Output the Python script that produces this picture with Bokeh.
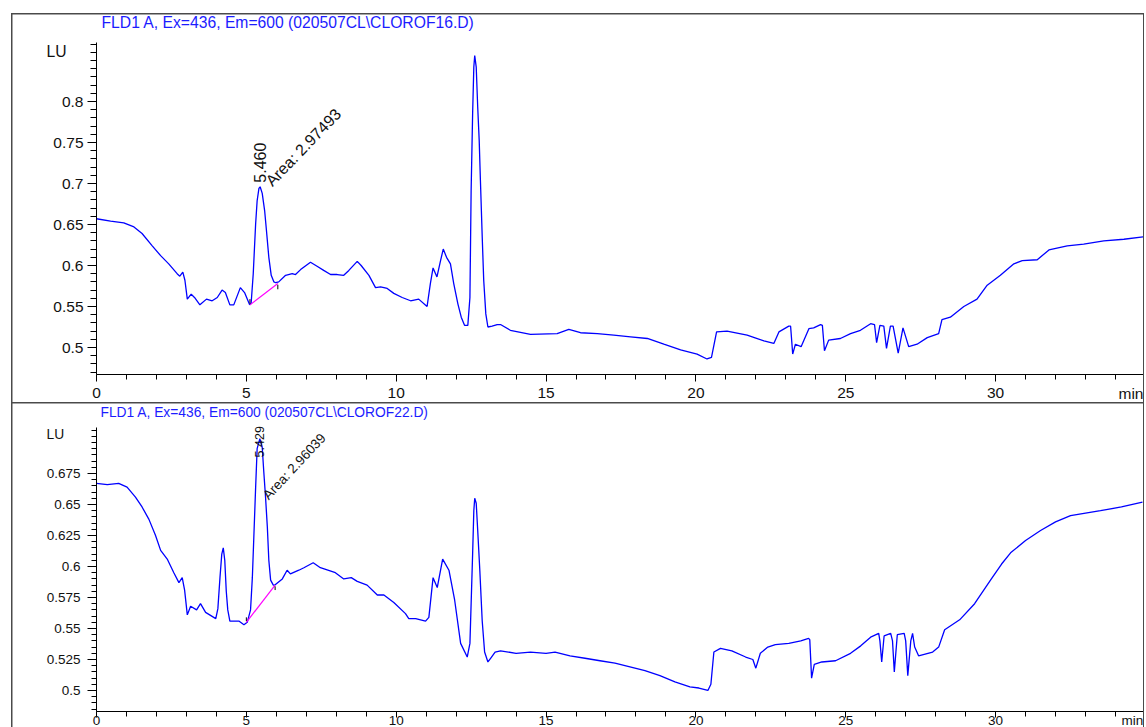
import numpy as np
from bokeh.plotting import figure
from bokeh.layouts import column
from bokeh.models import Label, FixedTicker, CustomJSTickFormatter, Range1d
from bokeh.embed import file_html
from bokeh.resources import INLINE

# ---------------- data ----------------
TOP_TITLE = "FLD1 A, Ex=436, Em=600 (020507CL\\CLOROF16.D)"
BOT_TITLE = "FLD1 A, Ex=436, Em=600 (020507CL\\CLOROF22.D)"

top_t = [0.00, 0.47, 0.91, 1.25, 1.52, 1.86, 2.14, 2.41, 2.69, 2.78, 2.88, 2.95, 3.03, 3.16, 3.27, 3.45,
         3.67, 3.86, 4.03, 4.19, 4.30, 4.45, 4.58, 4.80, 4.94, 5.11, 5.16, 5.23, 5.31, 5.36, 5.42, 5.46,
         5.53, 5.61, 5.67, 5.75, 5.83, 5.92, 5.98, 6.08, 6.31, 6.53, 6.64, 6.81, 7.14, 7.36, 7.58, 7.81,
         8.03, 8.25, 8.42, 8.70, 8.83, 9.09, 9.31, 9.48, 9.70, 9.92, 10.20, 10.48, 10.75, 11.03, 11.14,
         11.23, 11.36, 11.48, 11.57, 11.68, 11.81, 11.92, 12.06, 12.17, 12.28, 12.39, 12.46, 12.50, 12.55,
         12.59, 12.62, 12.67, 12.72, 12.77, 12.81, 12.87, 12.92, 12.99, 13.06, 13.20, 13.37, 13.48, 13.81,
         14.48, 15.37, 15.76, 16.15, 16.71, 17.26, 17.82, 18.38, 18.93, 19.49, 20.04, 20.37, 20.52, 20.69,
         21.04, 21.71, 22.27, 22.60, 22.77, 23.10, 23.16, 23.23, 23.32, 23.51, 23.77, 23.93, 24.16, 24.22,
         24.29, 24.43, 24.82, 25.16, 25.49, 25.83, 25.96, 26.03, 26.14, 26.27, 26.36, 26.49, 26.58, 26.75,
         26.91, 27.10, 27.38, 27.72, 28.10, 28.21, 28.49, 28.94, 29.38, 29.72, 30.16, 30.61, 30.89, 31.39,
         31.78, 32.39, 32.94, 33.61, 34.28, 34.94]
top_lu = [0.657, 0.654, 0.652, 0.647, 0.639, 0.624, 0.612, 0.602, 0.590, 0.587, 0.592, 0.582, 0.559, 0.565, 0.561, 0.552,
          0.559, 0.557, 0.561, 0.570, 0.567, 0.552, 0.552, 0.573, 0.567, 0.552, 0.554, 0.590, 0.651, 0.679, 0.694, 0.696,
          0.688, 0.667, 0.643, 0.610, 0.588, 0.580, 0.579, 0.580, 0.588, 0.590, 0.589, 0.595, 0.604, 0.599, 0.594, 0.589,
          0.589, 0.588, 0.594, 0.605, 0.600, 0.588, 0.573, 0.574, 0.572, 0.566, 0.561, 0.557, 0.559, 0.550, 0.578,
          0.597, 0.586, 0.606, 0.620, 0.610, 0.602, 0.578, 0.553, 0.537, 0.527, 0.527, 0.561, 0.691, 0.785,
          0.842, 0.856, 0.842, 0.793, 0.752, 0.704, 0.635, 0.582, 0.541, 0.525, 0.526, 0.528, 0.528, 0.521,
          0.516, 0.517, 0.522, 0.518, 0.517, 0.515, 0.513, 0.511, 0.504, 0.497, 0.492, 0.486, 0.488, 0.519,
          0.520, 0.515, 0.508, 0.505, 0.519, 0.526, 0.526, 0.492, 0.504, 0.501, 0.523, 0.524, 0.528, 0.527,
          0.496, 0.509, 0.511, 0.517, 0.521, 0.529, 0.528, 0.506, 0.527, 0.526, 0.499, 0.526, 0.526, 0.493,
          0.524, 0.501, 0.504, 0.512, 0.517, 0.534, 0.537, 0.550, 0.559, 0.576, 0.588, 0.602, 0.606, 0.607,
          0.619, 0.624, 0.626, 0.630, 0.632, 0.635]

bot_t = [0.00, 0.36, 0.74, 1.02, 1.30, 1.52, 1.75, 1.97, 2.14, 2.36, 2.58, 2.75, 2.86, 2.94, 3.03, 3.14,
         3.34, 3.47, 3.64, 3.98, 4.05, 4.12, 4.18, 4.23, 4.28, 4.33, 4.38, 4.45, 4.75, 4.92, 5.03, 5.14,
         5.20, 5.25, 5.31, 5.36, 5.45, 5.53, 5.58, 5.64, 5.70, 5.75, 5.81, 5.90, 5.95, 6.20, 6.36, 6.47,
         6.75, 6.92, 7.23, 7.47, 7.97, 8.25, 8.50, 8.70, 9.03, 9.37, 9.59, 9.92, 10.31, 10.42, 10.65, 10.98,
         11.09, 11.23, 11.37, 11.55, 11.76, 11.95, 12.15, 12.37, 12.46, 12.50, 12.55, 12.59, 12.62, 12.67,
         12.72, 12.79, 12.87, 12.95, 13.06, 13.15, 13.30, 13.48, 14.00, 14.48, 15.00, 15.30, 15.80, 16.30,
         16.80, 17.30, 17.80, 18.30, 18.80, 19.30, 19.80, 20.10, 20.40, 20.50, 20.60, 20.82, 21.20, 21.66,
         21.90, 22.00, 22.15, 22.40, 22.65, 23.10, 23.50, 23.76, 23.80, 23.86, 23.95, 24.20, 24.66, 25.16,
         25.50, 25.83, 26.10, 26.14, 26.20, 26.28, 26.50, 26.56, 26.62, 26.72, 26.95, 27.00, 27.07, 27.17,
         27.23, 27.30, 27.43, 27.90, 28.10, 28.30, 28.80, 29.30, 29.83, 30.20, 30.50, 31.00, 31.50, 32.00,
         32.50, 33.00, 33.50, 34.20, 34.90]
bot_lu = [0.667, 0.666, 0.667, 0.664, 0.656, 0.648, 0.638, 0.625, 0.613, 0.606, 0.595, 0.587, 0.591, 0.581, 0.561, 0.568,
          0.565, 0.570, 0.563, 0.558, 0.566, 0.591, 0.610, 0.615, 0.605, 0.580, 0.565, 0.556, 0.556, 0.553, 0.555, 0.565,
          0.591, 0.624, 0.664, 0.695, 0.703, 0.696, 0.677, 0.656, 0.632, 0.605, 0.589, 0.585, 0.585, 0.590, 0.597, 0.594,
          0.597, 0.599, 0.603, 0.599, 0.595, 0.590, 0.591, 0.588, 0.585, 0.577, 0.577, 0.571, 0.562, 0.558, 0.558, 0.556,
          0.559, 0.591, 0.583, 0.606, 0.597, 0.573, 0.538, 0.527, 0.538, 0.570, 0.610, 0.645, 0.655, 0.651,
          0.629, 0.597, 0.556, 0.531, 0.523, 0.526, 0.531, 0.532, 0.530, 0.531, 0.530, 0.531, 0.528, 0.526,
          0.524, 0.522, 0.519, 0.516, 0.512, 0.507, 0.503, 0.502, 0.500, 0.505, 0.531, 0.534, 0.532, 0.527,
          0.525, 0.518, 0.530, 0.535, 0.537, 0.538, 0.540, 0.542, 0.541, 0.510, 0.521, 0.523, 0.524, 0.530,
          0.536, 0.543, 0.546, 0.540, 0.523, 0.544, 0.546, 0.540, 0.515, 0.545, 0.546, 0.540, 0.512, 0.540,
          0.546, 0.535, 0.528, 0.531, 0.535, 0.549, 0.557, 0.570, 0.589, 0.602, 0.611, 0.621, 0.629, 0.636,
          0.641, 0.643, 0.645, 0.648, 0.652]

# integration baselines (start, end)
top_base_t = [5.12, 6.05]
top_base_lu = [0.552, 0.578]
bot_base_t = [5.00, 5.96]
bot_base_lu = [0.555, 0.585]

top_peak_rt = "5.460"
top_peak_area = "Area: 2.97493"
bot_peak_rt = "5.429"
bot_peak_area = "Area: 2.96039"

x_ticks = [0, 5, 10, 15, 20, 25, 30]
x_minor = list(range(0, 35))
top_y_ticks = [0.5, 0.55, 0.6, 0.65, 0.7, 0.75, 0.8]
top_y_minor = [round(0.47 + 0.01 * i, 3) for i in range(41)]
bot_y_ticks = [0.5, 0.525, 0.55, 0.575, 0.6, 0.625, 0.65, 0.675]
bot_y_minor = [round(0.485 + 0.005 * i, 3) for i in range(46)]

FONT = "Liberation Sans"
BLUE = "#0000ff"
FRAME_GRAY = "#4a4a4a"
X_END = 34.935
fmt = CustomJSTickFormatter(code="return String(parseFloat(tick.toFixed(4)));")


def panel(t, lu, base_t, base_lu, x_rng, y_rng, y_bounds, y_ticks, y_minor, height, margin,
          fs, ytick_out, yminor_out, ystand, xtick_out, xstand):
    p = figure(width=1131, height=height, output_backend="svg", toolbar_location=None,
               x_range=Range1d(*x_rng), y_range=Range1d(*y_rng),
               min_border_left=0, min_border_right=0, min_border_top=0, min_border_bottom=0)
    p.outline_line_color = None
    p.xgrid.visible = False
    p.ygrid.visible = False
    p.background_fill_color = "white"
    p.border_fill_color = "white"
    p.margin = margin

    p.line(t, lu, line_color=BLUE, line_width=1.3)
    p.line(base_t, base_lu, line_color="#ff00ff", line_width=1.2)

    xa = p.xaxis[0]
    xa.ticker = FixedTicker(ticks=x_ticks, minor_ticks=x_minor)
    xa.formatter = fmt
    xa.fixed_location = y_bounds[0]
    xa.bounds = (0, X_END)
    ya = p.yaxis[0]
    ya.ticker = FixedTicker(ticks=y_ticks, minor_ticks=y_minor)
    ya.formatter = fmt
    ya.fixed_location = 0
    ya.bounds = y_bounds
    for ax in (xa, ya):
        ax.axis_line_color = "black"
        ax.major_tick_line_color = "black"
        ax.minor_tick_line_color = "black"
        ax.major_tick_in = 0
        ax.minor_tick_in = 0
        ax.major_label_text_font = FONT
        ax.major_label_text_font_size = fs
        ax.major_label_text_color = "#111111"
    ya.major_tick_out = ytick_out
    ya.minor_tick_out = yminor_out
    ya.major_label_standoff = ystand
    xa.major_tick_out = xtick_out
    xa.minor_tick_out = 5
    xa.major_label_standoff = xstand
    return p


p1 = panel(top_t, top_lu, top_base_t, top_base_lu, (-2.8028, X_END), (0.43293, 0.90610),
           (0.467, 0.872), top_y_ticks, top_y_minor, 388, (1, 1, 0, 1),
           "15.5px", 9, 6, 4, 7, 6)
p2 = panel(bot_t, bot_lu, bot_base_t, bot_base_lu, (-2.8028, X_END), (0.47016, 0.73145),
           (0.483, 0.712), bot_y_ticks, bot_y_minor, 324, (0, 1, 0, 1),
           "13.5px", 9, 5, 7, 6, -2)

# baseline end marks
p1.segment([top_base_t[0], top_base_t[1]], [top_base_lu[0] + 0.0015, top_base_lu[1] - 0.0015],
           [top_base_t[0], top_base_t[1]], [top_base_lu[0] + 0.007, top_base_lu[1] - 0.007],
           line_color="black", line_width=1)
p2.segment([bot_base_t[0], bot_base_t[1]], [bot_base_lu[0] + 0.001, bot_base_lu[1] - 0.001],
           [bot_base_t[0], bot_base_t[1]], [bot_base_lu[0] + 0.004, bot_base_lu[1] - 0.004],
           line_color="black", line_width=1)


def lab(p, x, y, text, fs, color="#111111", align="left", baseline="middle", angle=0.0):
    p.add_layout(Label(x=x, y=y, text=text, text_font=FONT, text_font_size=fs, text_color=color,
                       text_align=align, text_baseline=baseline, angle=angle))


# top panel texts
lab(p1, 0.167, 0.8963, TOP_TITLE, "15.7px", color="#1c1cff")
lab(p1, -1.335, 0.861, "LU", "15.7px", align="center")
lab(p1, 34.10, 0.4439, "min", "15.5px")
lab(p1, 5.47, 0.701, top_peak_rt, "16px", angle=np.pi / 2)
lab(p1, 5.74, 0.700, top_peak_area, "16px", baseline="alphabetic", angle=np.deg2rad(46))

# bottom panel texts
lab(p2, 0.133, 0.7242, BOT_TITLE, "13.8px", color="#1c1cff")
lab(p2, -1.37, 0.7065, "LU", "13.8px", align="center")
lab(p2, 34.2, 0.4758, "min", "13.5px")
lab(p2, 5.45, 0.688, bot_peak_rt, "12.5px", angle=np.pi / 2)
lab(p2, 5.64, 0.6556, bot_peak_area, "13.5px", baseline="alphabetic", angle=np.deg2rad(47))

layout = column(p1, p2, spacing=1, margin=(13, 0, 0, 11),
                styles={"background-color": FRAME_GRAY})

open("out.html", "w").write(file_html(layout, INLINE))
